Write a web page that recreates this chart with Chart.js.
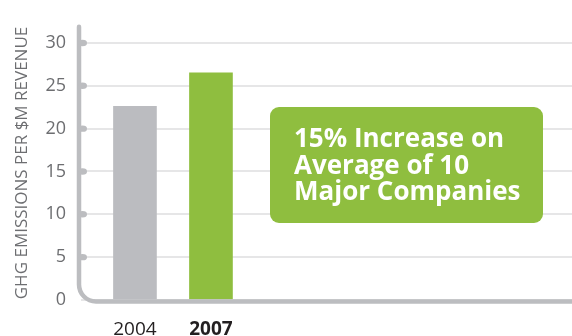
<!DOCTYPE html>
<html lang="en">
<head>
    <meta charset="UTF-8">
    <title>GHG Emissions per $M Revenue</title>
    <style>
        html, body { margin: 0; padding: 0; background: #ffffff; }
        #wrap { width: 572px; height: 336px; }
    </style>
    <script src="https://cdn.jsdelivr.net/npm/chart.js"></script>
</head>
<body>
    <div id="wrap"><canvas id="myChart" width="572" height="336"></canvas></div>
    <script>
        // Data
        const years = ['2004', '2007'];
        const emissions = [22.6, 26.5];
        const barColors = ['#bbbcc0', '#8fbe3f'];
        const yTicks = [0, 5, 10, 15, 20, 25, 30];
        const yTitle = 'GHG EMISSIONS PER $M REVENUE';
        const noteLines = ['15% Increase on', 'Average of 10', 'Major Companies'];

        const axisGray = '#bcbdc0';
        const textGray = '#6d6e71';

        // Rounded L-shaped axis with little bumps at each y tick
        const roundedAxis = {
            id: 'roundedAxis',
            afterDatasetsDraw(chart) {
                const ctx = chart.ctx;
                const area = chart.chartArea;
                const y = chart.scales.y;
                const x0 = area.left - 2;
                const yb = y.getPixelForValue(0) + 1.5;
                const r = 17;
                ctx.save();
                ctx.strokeStyle = axisGray;
                ctx.lineWidth = 4.5;
                ctx.lineCap = 'round';
                ctx.beginPath();
                ctx.moveTo(x0, area.top + 1);
                ctx.lineTo(x0, yb - r);
                ctx.arcTo(x0, yb, x0 + r, yb, r);
                ctx.lineTo(chart.width, yb);
                ctx.stroke();
                ctx.fillStyle = axisGray;
                yTicks.forEach(v => {
                    if (v === 0) return;
                    ctx.beginPath();
                    ctx.ellipse(area.left + 1.5, y.getPixelForValue(v), 4.5, 3.2, 0, 0, Math.PI * 2);
                    ctx.fill();
                });

                // vertical axis title
                ctx.translate(22, 163);
                ctx.rotate(-Math.PI / 2);
                ctx.fillStyle = textGray;
                ctx.font = '17px "Open Sans", sans-serif';
                ctx.textAlign = 'center';
                ctx.textBaseline = 'middle';
                ctx.fillText(yTitle, 0, 0);
                ctx.restore();
            }
        };

        // Green call-out box
        const noteBox = {
            id: 'noteBox',
            afterDraw(chart) {
                const ctx = chart.ctx;
                ctx.save();
                ctx.fillStyle = '#8fbe3f';
                ctx.beginPath();
                ctx.roundRect(270, 107, 273, 116, 9);
                ctx.fill();
                ctx.fillStyle = '#ffffff';
                ctx.font = 'bold 26px "Open Sans", sans-serif';
                ctx.textBaseline = 'alphabetic';
                noteLines.forEach((line, i) => {
                    ctx.fillText(line, 294, 147 + i * 26.5);
                });
                ctx.restore();
            }
        };

        const ctx = document.getElementById('myChart').getContext('2d');
        new Chart(ctx, {
            type: 'bar',
            data: {
                datasets: [{
                    data: emissions.map((v, i) => ({ x: i, y: v })),
                    backgroundColor: barColors,
                    borderWidth: 0,
                    barThickness: 43
                }]
            },
            options: {
                responsive: false,
                animation: false,
                layout: { padding: { top: 12, right: 0, left: 0, bottom: 0 } },
                plugins: {
                    legend: { display: false },
                    tooltip: { enabled: false }
                },
                scales: {
                    x: {
                        type: 'linear',
                        offset: false,
                        min: -0.71,
                        max: 5.75,
                        afterBuildTicks: scale => {
                            scale.ticks = years.map((_, i) => ({ value: i }));
                        },
                        afterFit: scale => { scale.height = 36; },
                        grid: { display: false },
                        border: { display: false },
                        ticks: {
                            padding: 10,
                            color: '#231f20',
                            font: c => ({
                                family: '"Open Sans", sans-serif',
                                size: 19,
                                weight: c.tick && c.tick.value === 1 ? 'bold' : 'normal'
                            }),
                            callback: v => years[v] || ''
                        }
                    },
                    y: {
                        min: 0,
                        max: 32,
                        afterBuildTicks: scale => {
                            scale.ticks = yTicks.map(v => ({ value: v }));
                        },
                        afterFit: scale => { scale.width = 81; },
                        grid: { color: '#e6e6e7', lineWidth: 2, drawTicks: false },
                        border: { display: false },
                        ticks: {
                            padding: 15,
                            color: textGray,
                            font: { family: '"Open Sans", sans-serif', size: 18 }
                        }
                    }
                }
            },
            plugins: [roundedAxis, noteBox]
        });
    </script>
</body>
</html>
